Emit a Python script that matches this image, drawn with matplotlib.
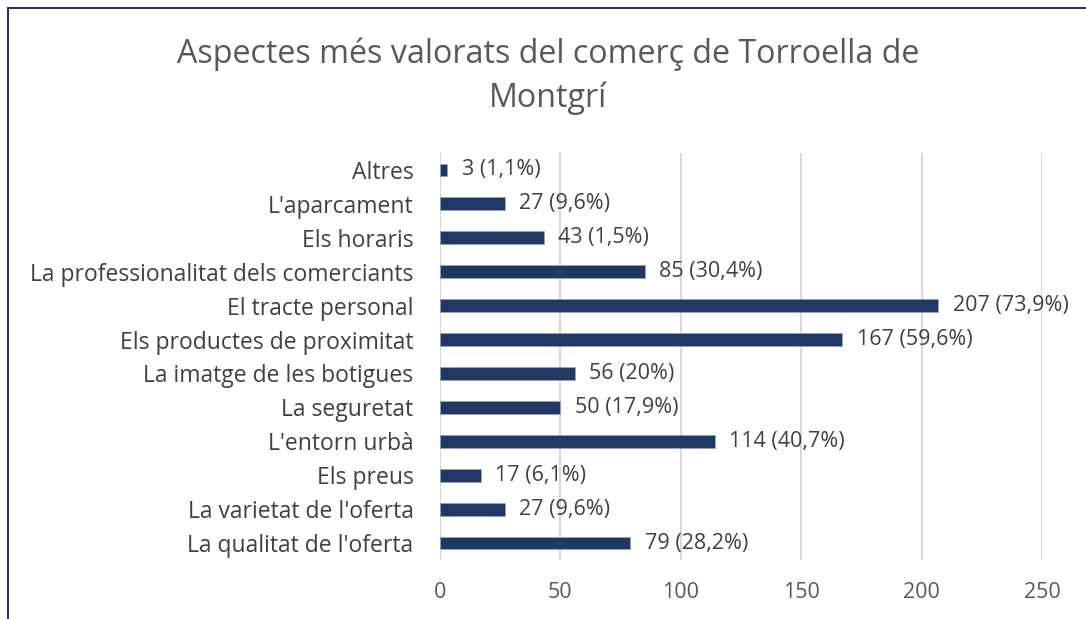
import matplotlib.pyplot as plt
from matplotlib.patches import Rectangle

categories = ["La qualitat de l'oferta", "La varietat de l'oferta", "Els preus",
              "L'entorn urbà", "La seguretat", "La imatge de les botigues",
              "Els productes de proximitat", "El tracte personal",
              "La professionalitat dels comerciants", "Els horaris",
              "L'aparcament", "Altres"]
values = [79, 27, 17, 114, 50, 56, 167, 207, 85, 43, 27, 3]
pct_labels = ["28,2%", "9,6%", "6,1%", "40,7%", "17,9%", "20%",
              "59,6%", "73,9%", "30,4%", "1,5%", "9,6%", "1,1%"]
xticks = [0, 50, 100, 150, 200, 250]

plt.rcParams['font.family'] = ['Open Sans', 'DejaVu Sans']

fig = plt.figure(figsize=(10.86, 6.19), dpi=100)
ax = fig.add_axes([440 / 1086, 1 - 560 / 619, 602 / 1086, 407 / 619])

y = list(range(len(categories)))
ax.barh(y, values, height=0.38, color='#1F3864', edgecolor='#8FAADC',
        linewidth=0.4, zorder=3)
for yi, v, p in zip(y, values, pct_labels):
    ax.text(v + 6, yi, f"{v} ({p})", va='center', ha='left',
            fontsize=15.5, color='#404040')

ax.set_xlim(0, 250)
ax.set_ylim(-0.5, len(categories) - 0.5)
ax.set_xticks(xticks)
ax.set_yticks(y)
ax.set_yticklabels(categories, fontsize=16.5, color='#404040')
ax.tick_params(axis='x', labelsize=15.5, labelcolor='#595959', length=0, pad=16)
ax.tick_params(axis='y', length=0, pad=19)
ax.grid(axis='x', color='#D9D9D9', linewidth=1.5, zorder=0)
for s in ax.spines.values():
    s.set_visible(False)

fig.text(548 / 1086, 1 - 76 / 619,
         "Aspectes més valorats del comerç de Torroella de\nMontgrí",
         ha='center', va='center', fontsize=23.2, color='#595959',
         linespacing=1.4)

fig.patches.append(Rectangle((8 / 1086, -0.1), 1.2, 1 - 8 / 619 + 0.1,
                             transform=fig.transFigure, fill=False,
                             edgecolor='#1F3864', linewidth=1.5))

fig.savefig('out.png', dpi=100)
